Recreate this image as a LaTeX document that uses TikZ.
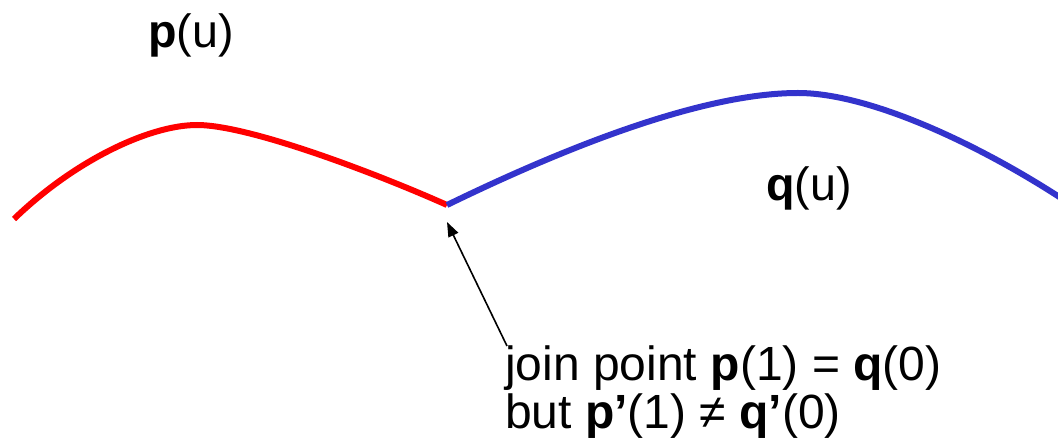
\documentclass[tikz,border=0pt]{standalone}
\usepackage{fontspec}
\setmainfont{Liberation Sans}
\usetikzlibrary{arrows.meta}
\definecolor{curvered}{RGB}{255,0,0}
\definecolor{curveblue}{RGB}{51,51,204}
\begin{document}
\begin{tikzpicture}[x=0.75pt,y=-0.75pt,
  lbl/.style={inner sep=0pt,anchor=base west,font=\fontsize{35}{36}\selectfont},
  note/.style={inner sep=0pt,anchor=base west,font=\fontsize{36}{36}\selectfont},
  seg/.style={line width=4.5pt,line join=round},
  pointer/.style={line width=1.2pt,-{Triangle[length=11pt,width=8pt]}}]
\useasboundingbox (0,0) rectangle (1058,441);
\coordinate (pstart) at (14,219);
\coordinate (ppeak) at (197,125);
\coordinate (join) at (447,205);
\coordinate (qpeak) at (798,93);
\coordinate (qend) at (1064,200);
\coordinate (tip) at (447,222);
\draw[seg,curvered] (pstart) .. controls (75,160) and (150,125) .. (ppeak)
  .. controls (250,125) and (380,175) .. (join);
\draw[seg,curveblue] (join) .. controls (560,150) and (700,93) .. (qpeak)
  .. controls (870,93) and (980,145) .. (qend);
\node[lbl] (pu) at (148,48) {\textbf{p}(u)};
\node[lbl] (qu) at (766,201) {\textbf{q}(u)};
\node[note] (line1) at (505,381) {join point \textbf{p}(1) = \textbf{q}(0)};
\node[note] (line2) at (505,429) {but \textbf{p’}(1) ≠ \textbf{q’}(0)};
\coordinate (tail) at (507,346);
\draw[pointer] (tail) -- (tip);
\end{tikzpicture}
\end{document}
